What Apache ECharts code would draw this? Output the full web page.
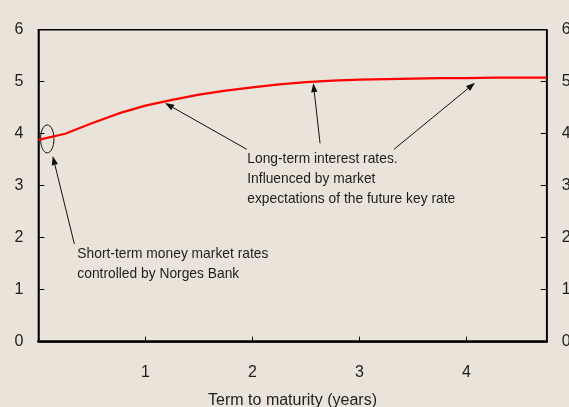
<!DOCTYPE html>
<html>
<head>
<meta charset="utf-8">
<script src="https://cdn.jsdelivr.net/npm/echarts@6/dist/echarts.min.js"></script>
<style>
html,body{margin:0;padding:0;background:#e9e3da;}
#c{width:569px;height:407px;}
</style>
</head>
<body>
<div id="c"></div>
<script>
// Data
var maturity = [0, 0.25, 0.5, 0.75, 1.0, 1.25, 1.5, 1.75, 2.0, 2.25, 2.5, 2.75, 3.0, 3.25, 3.5, 3.75, 4.0, 4.25, 4.5, 4.75];
var rate     = [3.88, 4.00, 4.20, 4.39, 4.54, 4.65, 4.75, 4.83, 4.89, 4.95, 4.99, 5.02, 5.04, 5.05, 5.06, 5.07, 5.07, 5.08, 5.08, 5.08];
var xTicks = [1, 2, 3, 4];
var yTicks = [0, 1, 2, 3, 4, 5, 6];
var xTitle = 'Term to maturity (years)';
var noteLong = 'Long-term interest rates.\nInfluenced by market\nexpectations of the future key rate';
var noteShort = 'Short-term money market rates\ncontrolled by Norges Bank';

var FONT = '"Liberation Sans", Arial, sans-serif';
var TXT = '#1e1e1e';

var chart = echarts.init(document.getElementById('c'), null, {renderer: 'canvas'});

function yAxisCfg(pos) {
  return {
    type: 'value', position: pos, min: 0, max: 6, interval: 1,
    axisLine: {show: true, lineStyle: {color: '#000', width: 1.5}},
    axisTick: {show: true, inside: true, length: 6, lineStyle: {color: '#000', width: 1}},
    axisLabel: {show: true, margin: 15, color: TXT, fontSize: 16, fontFamily: FONT,
      formatter: function (v) { return yTicks.indexOf(v) >= 0 ? String(v) : ''; }},
    splitLine: {show: false}
  };
}

var pts = maturity.map(function (m, i) { return [m, rate[i]]; });

chart.setOption({
  backgroundColor: '#e9e3da',
  animation: false,
  grid: {left: 38.4, right: 22.3, top: 29.7, bottom: 65.3, show: true,
    outerBoundsMode: 'none', containLabel: false,
    borderColor: '#000', borderWidth: 1.5, backgroundColor: 'transparent'},
  xAxis: {
    type: 'value', min: 0, max: 4.75, interval: 1,
    name: xTitle, nameLocation: 'middle', nameGap: 51,
    nameTextStyle: {color: TXT, fontSize: 16, fontFamily: FONT},
    axisLine: {show: true, lineStyle: {color: '#000', width: 2.5}},
    axisTick: {show: true, inside: true, length: 5, lineStyle: {color: '#000', width: 1}},
    axisLabel: {margin: 23, color: TXT, fontSize: 16, fontFamily: FONT,
      showMinLabel: false, showMaxLabel: false,
      formatter: function (v) { return xTicks.indexOf(v) >= 0 ? String(v) : ''; }},
    splitLine: {show: false}
  },
  yAxis: [yAxisCfg('left'), yAxisCfg('right')],
  series: [{
    type: 'line', data: pts, yAxisIndex: 0, symbol: 'none', smooth: false,
    lineStyle: {color: '#ff0000', width: 2.2}
  }]
});

// Annotations (data coordinates)
var arrows = [
  {from: [1.947, 3.70], to: [1.183, 4.59]},
  {from: [2.632, 3.815], to: [2.569, 4.97]},
  {from: [3.323, 3.70], to: [4.08, 4.98]},
  {from: [0.336, 1.88], to: [0.134, 3.57]}
];
var texts = [
  {at: [1.952, 3.51], text: noteLong},
  {at: [0.364, 1.69], text: noteShort}
];
var ellipseAt = [0.078, 3.90];

function px(p) { return chart.convertToPixel({gridIndex: 0}, p); }

var g = [];
arrows.forEach(function (a) {
  var p0 = px(a.from), p1 = px(a.to);
  var dx = p1[0] - p0[0], dy = p1[1] - p0[1];
  var L = Math.sqrt(dx * dx + dy * dy), ux = dx / L, uy = dy / L;
  var hl = 9, hw = 3.2;
  var bx = p1[0] - ux * hl, by = p1[1] - uy * hl;
  g.push({type: 'line', shape: {x1: p0[0], y1: p0[1], x2: bx, y2: by},
    style: {stroke: '#111', lineWidth: 1}, silent: true});
  g.push({type: 'polygon', shape: {points: [[p1[0], p1[1]],
    [bx - uy * hw, by + ux * hw], [bx + uy * hw, by - ux * hw]]},
    style: {fill: '#111'}, silent: true});
});
var ec = px(ellipseAt);
g.push({type: 'ellipse', shape: {cx: ec[0] + 0.5, cy: ec[1], rx: 6.7, ry: 14},
  style: {stroke: '#111', fill: null, lineWidth: 1}, silent: true});
texts.forEach(function (t) {
  var p = px(t.at);
  g.push({type: 'text', x: p[0], y: p[1] - 10, scaleX: 0.92, silent: true,
    style: {text: t.text, fill: TXT, font: '15px ' + FONT, lineHeight: 20,
      verticalAlign: 'top', align: 'left'}});
});
chart.setOption({graphic: g});
</script>
</body>
</html>
